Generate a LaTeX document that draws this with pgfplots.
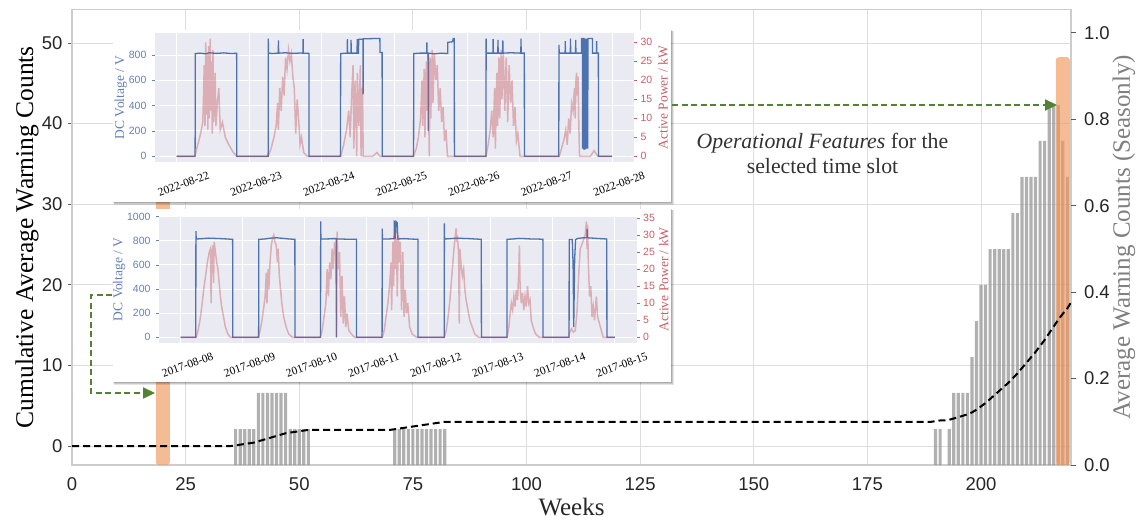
\documentclass[border=0pt]{standalone}
\usepackage{fontspec}
\setmainfont{Liberation Serif}
\setsansfont{Liberation Sans}
\usepackage{pgfplots}
\pgfplotsset{compat=1.18}
\usetikzlibrary{arrows.meta}
\definecolor{frm}{RGB}{204,204,204}
\definecolor{gridc}{RGB}{222,222,222}
\definecolor{tickc}{RGB}{90,90,90}
\definecolor{tlab}{RGB}{38,38,38}
\definecolor{rlab}{RGB}{128,128,128}
\definecolor{barg}{RGB}{150,150,150}
\definecolor{orng}{RGB}{240,150,90}
\definecolor{grn}{RGB}{84,130,53}
\definecolor{lav}{RGB}{234,234,242}
\definecolor{vblue}{RGB}{76,114,176}
\definecolor{pred}{RGB}{196,78,82}
\definecolor{tblue}{RGB}{100,128,185}
\definecolor{tred}{RGB}{200,95,100}
\begin{document}
\begin{tikzpicture}[x=1pt,y=1pt]
\path[use as bounding box] (0pt,0pt) rectangle (1139pt,520pt);
\pgfplotsset{
  mainax/.style={at={(72pt,55pt)}, anchor=south west, width=999pt, height=455.5pt, scale only axis,
    xmin=0, xmax=219.8, /pgf/number format/assume math mode=true},
  inset/.style={anchor=south west, scale only axis, /pgf/number format/assume math mode=true,
    /pgf/number format/1000 sep={},
    tick align=outside, major tick length=3pt,
    yticklabel style={font=\fontsize{10.5}{12}\selectfont\sffamily}},
}
% ---------- main axis: frame, grid, left scale
\begin{axis}[mainax, ymin=-2.357, ymax=54.16,
  axis line style={draw=frm, line width=1.3pt},
  xtick={0,25,...,200}, ytick={0,10,...,50},
  grid=major, major grid style={draw=gridc, line width=1pt},
  tick align=outside, ytick pos=left, xtick pos=bottom,
  xtick style={draw=none}, ytick style={draw=tickc, line width=1pt}, major tick length=4pt,
  tick label style={font=\fontsize{18.5}{20}\selectfont\sffamily, text=tlab},
  xticklabel style={yshift=-5.5pt}, yticklabel style={xshift=-2pt},
  xlabel={Weeks}, ylabel={Cumulative Average Warning Counts},
  xlabel style={font=\fontsize{25}{28}\selectfont, text=tlab, at={(axis description cs:0.5,-0.092)}, anchor=center},
  ylabel style={font=\fontsize{25.5}{28}\selectfont, text=black, at={(axis description cs:-0.045,0.5)}, anchor=center},
]
\end{axis}
% ---------- right scale: bars
\begin{axis}[mainax, ymin=0, ymax=1.0544,
  hide x axis, axis y line*=right, axis line style={draw=none},
  ytick={0,0.2,0.4,0.6,0.8,1.0}, tick align=outside, major tick length=5pt,
  ytick style={draw=tickc, line width=1pt},
  yticklabel style={font=\fontsize{18.5}{20}\selectfont\sffamily, text=tlab, xshift=4.5pt,
    /pgf/number format/fixed, /pgf/number format/fixed zerofill, /pgf/number format/precision=1},
  ylabel={Average Warning Counts (Seasonly)},
  ylabel style={font=\fontsize{25}{28}\selectfont, text=rlab, at={(axis description cs:1.053,0.5)}, anchor=center},
]
\addplot[ybar, bar width=0.7, fill=barg, fill opacity=0.75, draw=none] coordinates {
(36,0.0833)(37,0.0833)(38,0.0833)(39,0.0833)(40,0.0833)
(41,0.1667)(42,0.1667)(43,0.1667)(44,0.1667)(45,0.1667)(46,0.1667)(47,0.1667)
(48,0.0833)(49,0.0833)(50,0.0833)(51,0.0833)(52,0.0833)
(71,0.0833)(72,0.0833)(73,0.0833)(74,0.0833)(75,0.0833)(76,0.0833)(77,0.0833)(78,0.0833)(79,0.0833)(80,0.0833)(81,0.0833)(82,0.0833)
(190,0.0833)(191,0.0833)(193,0.0833)(194,0.1667)(195,0.1667)(196,0.1667)(197,0.1667)
(198,0.25)(199,0.3333)(200,0.4167)(201,0.4167)(202,0.5)(203,0.5)(204,0.5)(205,0.5)(206,0.5)
(207,0.5833)(208,0.5833)(209,0.6667)(210,0.6667)(211,0.6667)(212,0.6667)(213,0.75)(214,0.75)
(215,0.8333)(216,0.8333)(217,0.8333)(218,0.75)(219,0.6667)};
\addplot[ybar, bar width=3.1, fill=orng, fill opacity=0.65, draw=none, rounded corners=3pt] coordinates {(20,0.944)(218,0.944)};
\end{axis}
% ---------- cumulative line
\begin{axis}[mainax, ymin=-2.357, ymax=54.16, hide axis]
\addplot[black, line width=2pt, dash pattern=on 7pt off 4pt] coordinates {
(0,0)(35,0)(36,0.083)(37,0.167)(38,0.25)(39,0.333)(40,0.417)(41,0.583)(42,0.75)(43,0.917)(44,1.083)(45,1.25)(46,1.417)(47,1.583)(48,1.667)(49,1.75)(50,1.833)(51,1.917)(52,2)
(70,2)(71,2.083)(72,2.167)(73,2.25)(74,2.333)(75,2.417)(76,2.5)(77,2.583)(78,2.667)(79,2.75)(80,2.833)(81,2.917)(82,3)
(189,3)(190,3.083)(191,3.167)(192,3.167)(193,3.25)(194,3.417)(195,3.583)(196,3.75)(197,3.917)(198,4.167)(199,4.5)(200,4.917)(201,5.333)(202,5.833)(203,6.333)(204,6.833)(205,7.333)(206,7.833)(207,8.417)(208,9)(209,9.667)(210,10.333)(211,11)(212,11.667)(213,12.417)(214,13.167)(215,14)(216,14.833)(217,15.667)(218,16.417)(219,17.083)(219.8,17.8)};
\end{axis}
% ---------- inset panels
\foreach \o/\a in {3/0.10,2/0.12,1/0.15}{
  \fill[black, opacity=\a] (112.8pt+\o pt*0.5,318.3pt-\o pt) rectangle (671pt+\o pt,490pt-\o pt*0.5);
  \fill[black, opacity=\a] (112.8pt+\o pt*0.5,138pt-\o pt) rectangle (671pt+\o pt,311pt-\o pt*0.5);
}
\fill[white] (112.8pt,318.3pt) rectangle (671pt,490pt);
\fill[white] (112.8pt,138pt) rectangle (671pt,311pt);
% ---------- top inset (2022)
\begin{axis}[inset, at={(154.9pt,357.8pt)}, width=479.1pt, height=129.5pt,
  xmin=-0.3, xmax=6.3, ymin=-46.5, ymax=976.5,
  axis background/.style={fill=lav}, axis line style={draw=none},
  grid=major, major grid style={white, line width=1pt},
  xtick={0,1,2,3,4,5,6}, xticklabels={2022-08-22,2022-08-23,2022-08-24,2022-08-25,2022-08-26,2022-08-27,2022-08-28},
  xtick style={draw=none},
  xticklabel style={font=\fontsize{11.5}{13}\selectfont, text=black, rotate=20, anchor=center, inner sep=0.5pt, yshift=-20pt},
  ytick={0,200,400,600,800}, ytick pos=left, ytick style={draw=tblue, line width=0.7pt},
  yticklabel style={text=tblue, xshift=-2pt},
  ylabel={DC Voltage / V}, ylabel style={font=\fontsize{13.5}{15}\selectfont, text=tblue, inner sep=1pt, at={(axis description cs:-0.071,0.5)}, anchor=center},
]
\addplot[vblue, line width=1.3pt] coordinates {
(0,0)(0.252,0)(0.253,150)(0.255,60)(0.257,812)(0.32,815)(0.40,810)(0.45,818)(0.55,813)(0.65,817)(0.75,812)(0.826,814)(0.828,0)
(1.260,0)(1.262,930)(1.265,815)(1.33,812)(1.40,816)(1.402,915)(1.405,815)(1.50,818)(1.60,813)(1.70,816)(1.740,815)(1.742,925)(1.745,815)(1.822,813)(1.824,0)
(2.255,0)(2.257,70)(2.259,812)(2.35,815)(2.352,925)(2.355,815)(2.40,815)(2.402,920)(2.405,815)(2.485,815)(2.487,925)(2.49,815)(2.505,815)(2.507,925)(2.566,925)(2.568,490)(2.571,928)(2.70,930)(2.799,930)(2.801,820)(2.83,820)(2.832,0)
(3.262,0)(3.264,150)(3.266,812)(3.35,815)(3.445,815)(3.447,900)(3.45,815)(3.464,815)(3.466,200)(3.469,815)(3.55,810)(3.65,815)(3.733,812)(3.735,900)(3.80,905)(3.81,930)(3.824,930)(3.826,0)
(4.261,0)(4.263,930)(4.266,815)(4.357,815)(4.359,925)(4.362,815)(4.424,815)(4.426,920)(4.429,815)(4.491,815)(4.493,915)(4.496,815)(4.60,818)(4.741,815)(4.743,930)(4.746,815)(4.789,815)(4.791,0)
(5.264,0)(5.266,880)(5.27,815)(5.351,815)(5.353,910)(5.356,815)(5.423,815)(5.425,930)(5.428,815)(5.495,815)(5.497,920)(5.50,815)(5.576,815)(5.578,930)(5.59,930)(5.592,60)(5.597,930)(5.61,930)(5.612,50)(5.618,930)(5.63,55)(5.636,930)(5.648,60)(5.652,930)(5.662,60)(5.666,930)(5.727,930)(5.729,815)(5.783,815)(5.785,910)(5.788,815)(5.809,815)(5.811,0)(6.0,0)};
\end{axis}
\begin{axis}[inset, at={(154.9pt,357.8pt)}, width=479.1pt, height=129.5pt,
  xmin=-0.3, xmax=6.3, ymin=-1.55, ymax=32.55,
  hide x axis, axis y line*=right, axis line style={draw=none},
  ytick={0,5,10,15,20,25,30}, ytick style={draw=tred, line width=0.7pt},
  yticklabel style={text=tred, xshift=0pt},
  ylabel={Active Power / kW}, ylabel style={font=\fontsize{13.5}{15}\selectfont, text=tred, inner sep=1pt, at={(axis description cs:1.0605,0.5)}, anchor=center},
]
\addplot[pred, line width=1.5pt, opacity=0.38] coordinates {
(0,0)(0.25,0)(0.29,3)(0.33,6)(0.36,9)(0.38,24)(0.39,8)(0.40,30)(0.41,11)(0.42,27)(0.43,7)(0.44,29)(0.45,10)(0.46,31)(0.47,12)(0.48,25)(0.49,6)(0.50,28)(0.51,9)(0.53,22)(0.54,8)(0.56,14)(0.58,18)(0.60,7)(0.63,9)(0.67,5)(0.72,3)(0.78,1)(0.83,0)
(1.26,0)(1.30,2)(1.34,5)(1.37,8)(1.39,14)(1.40,7)(1.42,18)(1.44,12)(1.46,21)(1.48,16)(1.50,26)(1.52,23)(1.54,28)(1.56,25)(1.58,27)(1.60,21)(1.62,18)(1.64,6)(1.66,15)(1.68,10)(1.70,3)(1.72,5)(1.75,1)(1.80,0)
(2.26,0)(2.30,3)(2.34,7)(2.37,12)(2.39,5)(2.41,16)(2.43,24)(2.44,2)(2.46,20)(2.48,0)(2.49,22)(2.51,8)(2.53,24)(2.54,0)(2.56,18)(2.57,0)(2.70,0)(2.76,1)(2.80,0)
(3.26,0)(3.30,2)(3.33,5)(3.36,10)(3.38,20)(3.39,8)(3.41,23)(3.42,5)(3.44,25)(3.45,12)(3.46,27)(3.48,0)(3.49,26)(3.50,10)(3.52,28)(3.53,14)(3.55,27)(3.57,20)(3.59,24)(3.61,12)(3.63,18)(3.65,9)(3.67,13)(3.69,4)(3.71,7)(3.73,0)(3.76,0)
(4.26,0)(4.29,3)(4.32,7)(4.34,12)(4.36,5)(4.38,18)(4.39,2)(4.41,22)(4.42,8)(4.44,26)(4.45,10)(4.47,28)(4.48,15)(4.50,27)(4.52,12)(4.54,26)(4.56,9)(4.58,24)(4.60,14)(4.62,20)(4.64,8)(4.66,13)(4.68,4)(4.70,6)(4.73,0)(4.78,0)
(5.27,0)(5.30,2)(5.33,4)(5.36,7)(5.38,3)(5.40,10)(5.42,6)(5.44,14)(5.46,12)(5.48,18)(5.49,10)(5.50,20)(5.51,22)(5.52,16)(5.53,21)(5.54,8)(5.55,0)(5.70,0)(5.75,1.5)(5.80,0)(6.0,0)};
\end{axis}
% ---------- bottom inset (2017)
\begin{axis}[inset, at={(159pt,176.9pt)}, width=477.7pt, height=127.4pt,
  xmin=-0.35, xmax=7.35, ymin=-48, ymax=1008,
  axis background/.style={fill=lav}, axis line style={draw=none},
  grid=major, major grid style={white, line width=1pt},
  xtick={0,1,2,3,4,5,6,7}, xticklabels={2017-08-08,2017-08-09,2017-08-10,2017-08-11,2017-08-12,2017-08-13,2017-08-14,2017-08-15},
  xtick style={draw=none},
  xticklabel style={font=\fontsize{11.5}{13}\selectfont, text=black, rotate=20, anchor=center, inner sep=0.5pt, yshift=-20pt},
  ytick={0,200,400,600,800,1000}, ytick pos=left, ytick style={draw=tblue, line width=0.7pt},
  yticklabel style={text=tblue, xshift=-2pt},
  ylabel={DC Voltage / V}, ylabel style={font=\fontsize{13.5}{15}\selectfont, text=tblue, inner sep=1pt, at={(axis description cs:-0.0835,0.5)}, anchor=center},
]
\addplot[vblue, line width=1.3pt] coordinates {
(0,0)(0.243,0)(0.245,880)(0.25,815)(0.35,818)(0.45,822)(0.55,820)(0.65,818)(0.75,815)(0.837,812)(0.839,0)
(1.256,0)(1.258,812)(1.35,815)(1.45,822)(1.55,825)(1.65,820)(1.75,815)(1.84,812)(1.842,0)
(2.254,0)(2.256,960)(2.26,815)(2.35,815)(2.45,818)(2.509,818)(2.51,0)(2.512,815)(2.60,815)(2.70,812)(2.832,812)(2.834,0)
(3.246,0)(3.248,900)(3.252,815)(3.35,815)(3.44,818)(3.442,960)(3.45,955)(3.46,815)(3.47,960)(3.49,950)(3.50,815)(3.60,818)(3.70,815)(3.824,812)(3.826,0)
(4.248,0)(4.25,945)(4.254,815)(4.35,818)(4.45,822)(4.55,820)(4.65,818)(4.75,815)(4.845,812)(4.847,0)
(5.258,0)(5.26,812)(5.35,815)(5.45,820)(5.55,818)(5.65,815)(5.75,815)(5.838,812)(5.84,0)
(6.26,0)(6.262,810)(6.31,810)(6.315,760)(6.325,600)(6.335,85)(6.35,650)(6.365,810)(6.40,820)(6.50,825)(6.548,825)(6.55,900)(6.553,825)(6.70,820)(6.868,815)(6.87,0)(7.0,0)};
\end{axis}
\begin{axis}[inset, at={(159pt,176.9pt)}, width=477.7pt, height=127.4pt,
  xmin=-0.35, xmax=7.35, ymin=-1.7, ymax=35.7,
  hide x axis, axis y line*=right, axis line style={draw=none},
  ytick={0,5,10,15,20,25,30,35}, ytick style={draw=tred, line width=0.7pt},
  yticklabel style={text=tred, xshift=0pt},
  ylabel={Active Power / kW}, ylabel style={font=\fontsize{13.5}{15}\selectfont, text=tred, inner sep=1pt, at={(axis description cs:1.0565,0.5)}, anchor=center},
]
\addplot[pred, line width=1.5pt, opacity=0.38] coordinates {
(0,0)(0.25,0)(0.28,2)(0.31,5)(0.34,9)(0.37,14)(0.40,18)(0.43,22)(0.46,25)(0.48,26)(0.49,10)(0.50,24)(0.52,27)(0.53,16)(0.54,28)(0.56,25)(0.58,22)(0.60,20)(0.62,16)(0.64,12)(0.66,9)(0.69,6)(0.72,3)(0.76,1)(0.80,0)
(1.25,0)(1.28,2)(1.31,5)(1.34,9)(1.36,12)(1.38,19)(1.39,10)(1.41,20)(1.42,14)(1.44,22)(1.46,27)(1.48,29)(1.50,30)(1.52,28)(1.54,27)(1.56,22)(1.57,26)(1.59,18)(1.61,14)(1.63,10)(1.66,6)(1.70,3)(1.74,1)(1.80,0)
(2.25,0)(2.28,2)(2.31,6)(2.34,10)(2.36,20)(2.38,12)(2.40,22)(2.42,17)(2.44,26)(2.46,20)(2.48,28)(2.50,24)(2.51,0)(2.52,31)(2.54,20)(2.56,25)(2.58,6)(2.60,18)(2.62,4)(2.64,12)(2.66,3)(2.68,7)(2.71,2)(2.75,1)(2.80,0)
(3.25,0)(3.28,2)(3.31,6)(3.34,10)(3.37,16)(3.39,22)(3.40,8)(3.42,28)(3.43,15)(3.45,31)(3.46,20)(3.48,29)(3.49,12)(3.51,30)(3.52,22)(3.54,28)(3.56,8)(3.58,25)(3.60,6)(3.62,14)(3.64,7)(3.66,10)(3.69,3)(3.73,1)(3.80,0)
(4.25,0)(4.28,2)(4.31,6)(4.34,11)(4.37,18)(4.40,25)(4.42,29)(4.44,32)(4.45,28)(4.46,30)(4.48,24)(4.49,4)(4.50,26)(4.52,21)(4.54,18)(4.56,20)(4.58,14)(4.60,11)(4.63,8)(4.66,5)(4.70,3)(4.74,1)(4.80,0)
(5.26,0)(5.29,3)(5.31,7)(5.33,10)(5.35,8)(5.37,12)(5.39,9)(5.41,14)(5.43,11)(5.45,20)(5.46,27)(5.47,15)(5.49,10)(5.51,13)(5.53,8)(5.55,12)(5.57,9)(5.59,15)(5.61,10)(5.63,11)(5.65,5)(5.68,3)(5.72,1)(5.78,0)
(6.25,0)(6.27,1.5)(6.30,2.5)(6.33,1.5)(6.36,2)(6.39,8)(6.42,20)(6.44,26)(6.46,27)(6.48,28)(6.50,29)(6.52,30)(6.54,34)(6.55,26)(6.56,33)(6.57,22)(6.59,12)(6.61,15)(6.63,6)(6.65,9)(6.67,5)(6.70,12)(6.72,6)(6.75,4)(6.78,2)(6.81,0)(7.0,0)};
\end{axis}
% ---------- annotations
\draw[grn, line width=2pt, dash pattern=on 6pt off 3.5pt, -{Triangle[length=12pt, width=11pt]}] (672pt,415pt) -- (1057pt,415pt);
\draw[grn, line width=2pt, dash pattern=on 6pt off 3.5pt, -{Triangle[length=12pt, width=11pt]}] (112pt,225pt) -- (91pt,225pt) -- (91pt,127pt) -- (155pt,127pt);
\node[anchor=base, font=\fontsize{21.8}{26}\selectfont, text={rgb,255:red,50;green,50;blue,50}] at (822.5pt,371.7pt) {\textit{Operational Features} for the};
\node[anchor=base, font=\fontsize{21.8}{26}\selectfont, text={rgb,255:red,50;green,50;blue,50}] at (822.5pt,346pt) {selected time slot};
\end{tikzpicture}
\end{document}
